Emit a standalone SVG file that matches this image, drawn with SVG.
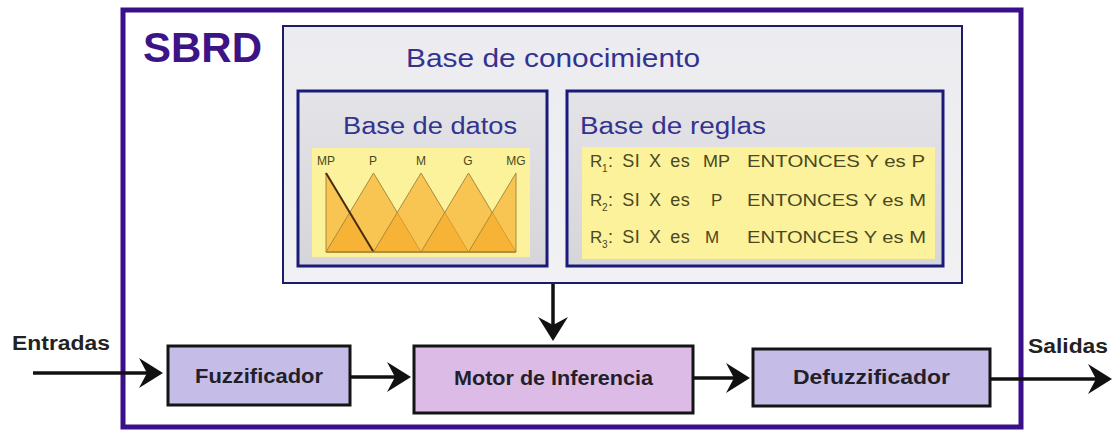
<svg xmlns="http://www.w3.org/2000/svg" width="1116" height="430" viewBox="0 0 1116 430">
<style>
text{font-family:"Liberation Sans",Arial,sans-serif}
.title{fill:#33338f}
.blk{stroke:#141414;stroke-width:3}
.lbl{font-weight:bold;font-size:20px;fill:#231f2a}
.io{font-weight:bold;font-size:20px;fill:#222}
.rule{font-size:17px;fill:#4a4820}
.sub{font-size:10px}
.mf{font-size:12px;fill:#4a4820}
.tri{fill:#f5a623;fill-opacity:0.6;stroke:#a88a3c;stroke-width:1}
.conn{stroke:#111;stroke-width:3.5;fill:none}
</style>
<defs>
<linearGradient id="kbg" x1="0" y1="0" x2="0" y2="1">
<stop offset="0" stop-color="#ececf0"/>
<stop offset="1" stop-color="#f1f1f4"/>
</linearGradient>
<linearGradient id="ing" x1="0" y1="0" x2="0" y2="1">
<stop offset="0" stop-color="#e4e4e8"/>
<stop offset="1" stop-color="#d6d6da"/>
</linearGradient>
<marker id="ah" markerUnits="userSpaceOnUse" markerWidth="24" markerHeight="32" viewBox="0 0 24 32" refX="8" refY="16" orient="auto">
<path d="M0,1 L24,16 L0,31 L8,16 Z" fill="#111"/>
</marker>
</defs>
<rect width="1116" height="430" fill="#fff"/>

<g id="sbrd">
<rect x="123" y="10" width="898" height="417" fill="#fff" stroke="#3a0f8a" stroke-width="5"/>
<text x="143" y="62" font-size="42" font-weight="bold" fill="#3c1486" textLength="119" lengthAdjust="spacingAndGlyphs">SBRD</text>
</g>

<g id="base-conocimiento">
<rect x="283" y="26" width="679" height="257" fill="url(#kbg)" stroke="#1c1c6a" stroke-width="2"/>
<text class="title" x="406" y="67" font-size="26" textLength="294" lengthAdjust="spacingAndGlyphs">Base de conocimiento</text>
</g>

<g id="base-datos">
<rect x="298" y="91" width="249" height="175" fill="url(#ing)" stroke="#1a1a7a" stroke-width="3"/>
<text class="title" x="343" y="134" font-size="23" textLength="174" lengthAdjust="spacingAndGlyphs">Base de datos</text>
<rect x="312" y="148" width="218" height="109" fill="#fcf29c"/>
<text class="mf" x="326" y="165" text-anchor="middle">MP</text>
<text class="mf" x="373" y="165" text-anchor="middle">P</text>
<text class="mf" x="421" y="165" text-anchor="middle">M</text>
<text class="mf" x="468" y="165" text-anchor="middle">G</text>
<text class="mf" x="516" y="165" text-anchor="middle">MG</text>
<polygon class="tri" points="326,173 373.5,252 326,252"/>
<polygon class="tri" points="326,252 373.5,173 421,252"/>
<polygon class="tri" points="373.5,252 421,173 468.5,252"/>
<polygon class="tri" points="421,252 468.5,173 516,252"/>
<polygon class="tri" points="468.5,252 516,173 516,252"/>
<line x1="326" y1="173" x2="373.5" y2="252" stroke="#4a2c10" stroke-width="2"/>
<line x1="326" y1="252" x2="516" y2="252" stroke="#a88a3c" stroke-width="1.5"/>
</g>

<g id="base-reglas">
<rect x="567" y="91" width="376" height="175" fill="url(#ing)" stroke="#1a1a7a" stroke-width="3"/>
<text class="title" x="580" y="134" font-size="23" textLength="186" lengthAdjust="spacingAndGlyphs">Base de reglas</text>
<rect x="582" y="147" width="353" height="112" fill="#fcf29c"/>
<text class="rule" y="167"><tspan x="590">R</tspan><tspan class="sub" x="602" dy="5">1</tspan><tspan x="608" dy="-5" font-size="18" letter-spacing="0.6" word-spacing="3">: SI X es</tspan></text>
<text class="rule" x="703" y="167" textLength="27" lengthAdjust="spacingAndGlyphs">MP</text>
<text class="rule" x="747" y="167" textLength="178" lengthAdjust="spacingAndGlyphs">ENTONCES Y es P</text>
<text class="rule" y="206"><tspan x="590">R</tspan><tspan class="sub" x="602" dy="5">2</tspan><tspan x="608" dy="-5" font-size="18" letter-spacing="0.6" word-spacing="3">: SI X es</tspan></text>
<text class="rule" x="711" y="206" font-size="18">P</text>
<text class="rule" x="747" y="206" textLength="179" lengthAdjust="spacingAndGlyphs">ENTONCES Y es M</text>
<text class="rule" y="243"><tspan x="590">R</tspan><tspan class="sub" x="602" dy="5">3</tspan><tspan x="608" dy="-5" font-size="18" letter-spacing="0.6" word-spacing="3">: SI X es</tspan></text>
<text class="rule" x="705" y="243" font-size="18">M</text>
<text class="rule" x="747" y="243" textLength="179" lengthAdjust="spacingAndGlyphs">ENTONCES Y es M</text>
</g>

<g id="fuzzificador">
<rect class="blk" x="168" y="346" width="182" height="59" fill="#c5bde8"/>
<text class="lbl" x="259" y="383" text-anchor="middle" textLength="128" lengthAdjust="spacingAndGlyphs">Fuzzificador</text>
</g>

<g id="motor">
<rect class="blk" x="414" y="346" width="279" height="67" fill="#dcbce6"/>
<text class="lbl" x="553.5" y="385" text-anchor="middle" textLength="199" lengthAdjust="spacingAndGlyphs">Motor de Inferencia</text>
</g>

<g id="defuzzificador">
<rect class="blk" x="753" y="349" width="237" height="57" fill="#c5bde8"/>
<text class="lbl" x="871.5" y="384" text-anchor="middle" textLength="157" lengthAdjust="spacingAndGlyphs">Defuzzificador</text>
</g>

<g id="entradas">
<text class="io" x="12" y="350" textLength="98" lengthAdjust="spacingAndGlyphs">Entradas</text>
</g>
<g id="salidas">
<text class="io" x="1028" y="353" textLength="80" lengthAdjust="spacingAndGlyphs">Salidas</text>
</g>

<g id="connectors">
<line class="conn" x1="33" y1="373" x2="147" y2="373" marker-end="url(#ah)"/>
<line class="conn" x1="350" y1="377" x2="395" y2="377" marker-end="url(#ah)"/>
<line class="conn" x1="693" y1="378" x2="734" y2="378" marker-end="url(#ah)"/>
<line class="conn" x1="990" y1="379" x2="1096" y2="379" marker-end="url(#ah)"/>
<line class="conn" x1="553" y1="284" x2="553" y2="325" marker-end="url(#ah)"/>
</g>
</svg>
